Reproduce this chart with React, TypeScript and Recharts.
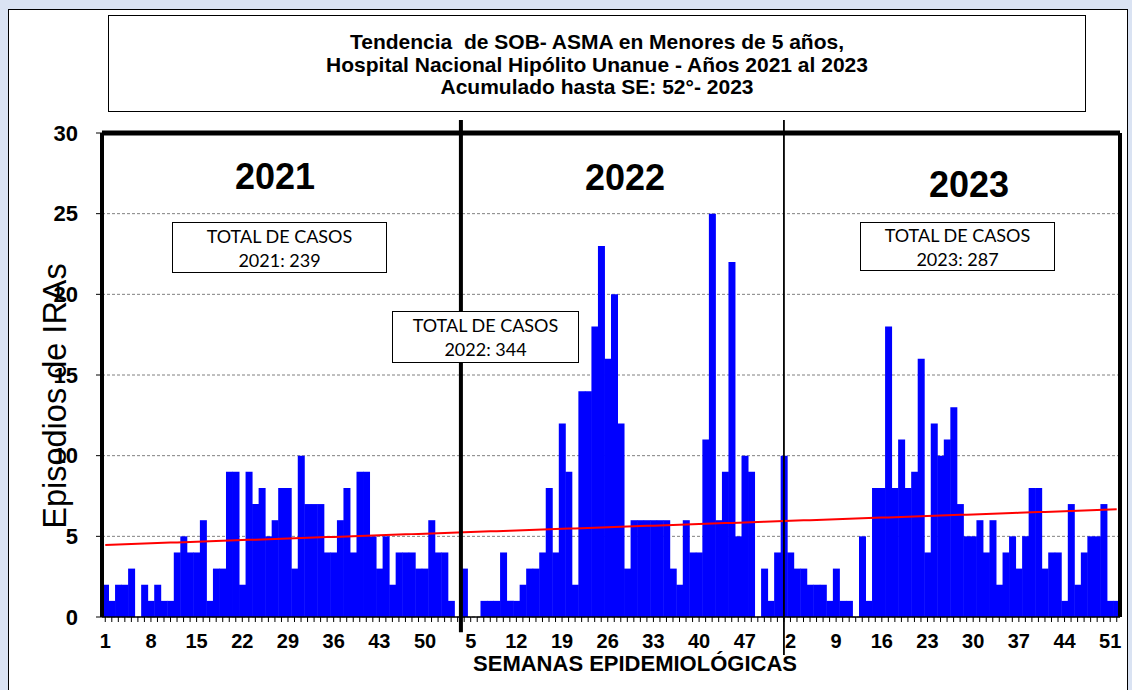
import React from 'react';
import { ComposedChart, Bar, Line, XAxis, YAxis, CartesianGrid, ReferenceLine } from 'recharts';

const years = [2021, 2022, 2023];
const weeks = Array.from({ length: 52 }, (_, i) => i + 1);
const cases2021 = [2,1,2,2,3,0,2,1,2,1, 1,4,5,4,4,6,1,3,3,9, 9,2,9,7,8,5,6,8,8,3, 10,7,7,7,4,4,6,8,4,9, 9,5,3,5,2,4,4,4,3,3, 6,4];
const cases2022 = [4,1,0,3,0,0,1,1,1,4, 1,1,2,3,3,4,8,4,12,9, 2,14,14,18,23,16,20,12,3,6, 6,6,6,6,6,3,2,6,4,4, 11,25,6,9,22,5,10,9,0,3, 1,4];
const cases2023 = [10,4,3,3,2,2,2,1,3,1, 1,0,5,1,8,8,18,8,11,8, 9,16,4,12,10,11,13,7,5,5, 6,4,6,2,4,5,3,5,8,8, 3,4,4,1,7,2,4,5,5,7, 1,1];
const yTicks = [0, 5, 10, 15, 20, 25, 30];
const totals = ['2021: 239', '2022: 344', '2023: 287'];
const titleLines = [
  'Tendencia  de SOB- ASMA en Menores de 5 años,',
  'Hospital Nacional Hipólito Unanue - Años 2021 al 2023',
  'Acumulado hasta SE: 52°- 2023',
];

const series = [cases2021, cases2022, cases2023];
const rows = years.flatMap((y, yi) => weeks.map((w, wi) => ({ key: `${y}-${w}`, week: w, value: series[yi][wi] })));

// Linear trendline (least squares over all weeks), as Excel computes it
const n = rows.length;
const mx = (n - 1) / 2;
const my = rows.reduce((s, r) => s + r.value, 0) / n;
let sxy = 0, sxx = 0;
rows.forEach((r, i) => { sxy += (i - mx) * (r.value - my); sxx += (i - mx) * (i - mx); });
const slope = sxy / sxx;
const data = rows.map((r, i) => ({ ...r, trend: my + slope * (i - mx) }));

const ARIAL = '"Liberation Sans", Arial, sans-serif';
const CAL = 'Lato, "Open Sans", sans-serif';

const XTick = (props: any) => {
  const { x, y, payload } = props;
  const idx = payload?.index ?? props.index;
  if (idx % 7 !== 0) return null;
  const wk = String(payload.value).split('-')[1];
  return (
    <text x={x} y={y} dy={24} textAnchor="middle" fontSize={20} fontWeight="bold" fill="#000" fontFamily={ARIAL}>{wk}</text>
  );
};

const boxStyle: React.CSSProperties = {
  position: 'absolute', background: '#fff', border: '1.5px solid #000', boxSizing: 'border-box',
  fontFamily: CAL, fontSize: 18, color: '#000', textAlign: 'center', lineHeight: '24px',
  display: 'flex', flexDirection: 'column', justifyContent: 'center',
};

const yearStyle: React.CSSProperties = {
  position: 'absolute', fontFamily: ARIAL, fontWeight: 'bold', fontSize: 36, color: '#000',
  transform: 'translate(-50%, -50%)', whiteSpace: 'nowrap',
};

export default function App() {
  return (
    <div style={{ position: 'absolute', left: 0, top: 0, width: 1132, height: 690, background: '#DAE3F3', overflow: 'hidden' }}>
      <div style={{ position: 'absolute', left: 8, top: 9, width: 1120, height: 700, background: '#fff', border: '1.5px solid #000', boxSizing: 'border-box' }} />
      <div style={{ position: 'absolute', left: 108, top: 15, width: 978, height: 97, border: '1.5px solid #000', boxSizing: 'border-box', background: '#fff', fontFamily: ARIAL, fontWeight: 'bold', fontSize: 21, lineHeight: '22.5px', textAlign: 'center', display: 'flex', flexDirection: 'column', justifyContent: 'center', whiteSpace: 'pre', paddingTop: 3 }}>
        {titleLines.map((t) => <div key={t}>{t}</div>)}
      </div>
      <div style={{ position: 'absolute', left: 0, top: 0 }}>
        <ComposedChart width={1132} height={690} data={data} margin={{ top: 133, right: 12, bottom: 28, left: 40 }} barCategoryGap={0} barGap={0}>
          <CartesianGrid vertical={false} stroke="#808080" strokeDasharray="3 2" />
          <XAxis dataKey="key" interval={0} tick={<XTick />} tickLine={{ stroke: '#000' }} tickSize={5} axisLine={{ stroke: '#000', strokeWidth: 1.5 }} height={45} />
          <YAxis domain={[0, 30]} ticks={yTicks} interval={0} width={62} tickSize={6} tickMargin={18}
            tick={{ fontSize: 22, fontWeight: 'bold', fill: '#000', fontFamily: ARIAL }}
            tickLine={{ stroke: '#000' }} axisLine={{ stroke: '#000', strokeWidth: 4 }} />
          <Bar dataKey="value" fill="#0000FF" isAnimationActive={false} />
          <Line dataKey="trend" stroke="#FF0000" strokeWidth={2} dot={false} activeDot={false} isAnimationActive={false} />
          <ReferenceLine y={30} stroke="#000" strokeWidth={5} />
          <ReferenceLine segment={[{ x: '2023-52', y: 30 }, { x: '2023-52', y: 0 }]} position="end" stroke="#000" strokeWidth={4} ifOverflow="visible" />
          <ReferenceLine segment={[{ x: '2022-3', y: 30.8 }, { x: '2022-3', y: -0.95 }]} position="end" stroke="#000" strokeWidth={4} ifOverflow="visible" />
          <ReferenceLine segment={[{ x: '2023-1', y: 30.8 }, { x: '2023-1', y: -2.35 }]} position="middle" stroke="#000" strokeWidth={1.8} ifOverflow="visible" />
        </ComposedChart>
      </div>
      <div style={{ ...yearStyle, left: 275, top: 177 }}>2021</div>
      <div style={{ ...yearStyle, left: 625, top: 178 }}>2022</div>
      <div style={{ ...yearStyle, left: 969, top: 185 }}>2023</div>
      <div style={{ ...boxStyle, left: 172, top: 222, width: 215, height: 51 }}><div>TOTAL DE CASOS</div><div>{totals[0]}</div></div>
      <div style={{ ...boxStyle, left: 392, top: 311, width: 187, height: 52 }}><div>TOTAL DE CASOS</div><div>{totals[1]}</div></div>
      <div style={{ ...boxStyle, left: 860, top: 222, width: 195, height: 49 }}><div>TOTAL DE CASOS</div><div>{totals[2]}</div></div>
      <div style={{ position: 'absolute', left: 55, top: 396, transform: 'translate(-50%, -50%) rotate(-90deg)', fontFamily: ARIAL, fontSize: 32.5, whiteSpace: 'nowrap', color: '#000' }}>Episodios de IRAs</div>
      <div style={{ position: 'absolute', left: 635, top: 664, transform: 'translate(-50%, -50%)', fontFamily: ARIAL, fontWeight: 'bold', fontSize: 22, whiteSpace: 'nowrap', color: '#000' }}>SEMANAS EPIDEMIOLÓGICAS</div>
    </div>
  );
}
